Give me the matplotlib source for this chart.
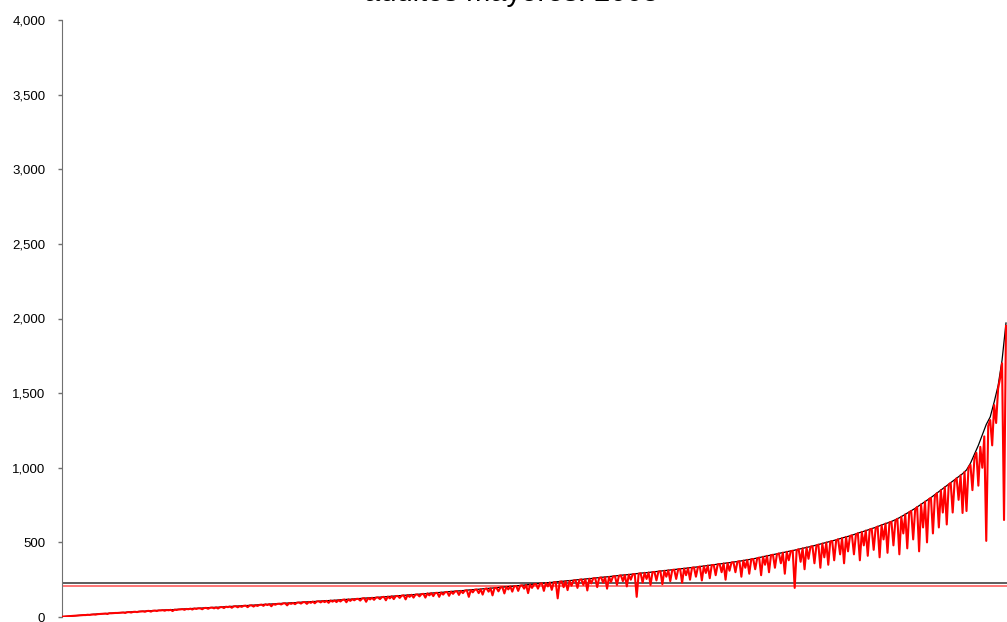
import numpy as np
import matplotlib
matplotlib.use("Agg")
import matplotlib.pyplot as plt

# Municipal values sorted from lowest to highest (black line)
sorted_values = [
    2, 4, 6, 8, 10, 12, 14, 16, 18, 20,
    22, 23, 25, 26, 28, 30, 31, 33, 35, 36,
    38, 39, 41, 42, 44, 45, 47, 48, 49, 51,
    52, 54, 55, 57, 58, 59, 61, 62, 64, 65,
    66, 68, 70, 71, 73, 74, 76, 77, 79, 80,
    82, 84, 85, 87, 88, 90, 92, 93, 95, 96,
    98, 100, 101, 103, 104, 106, 108, 109, 111, 112,
    114, 116, 118, 119, 121, 123, 125, 127, 128, 130,
    132, 134, 136, 138, 140, 142, 144, 146, 148, 150,
    152, 154, 156, 159, 161, 163, 165, 167, 170, 172,
    174, 176, 178, 181, 183, 185, 187, 190, 192, 194,
    196, 199, 201, 204, 206, 209, 211, 214, 217, 219,
    222, 225, 227, 230, 232, 235, 238, 240, 243, 245,
    248, 251, 253, 256, 258, 261, 264, 267, 269, 272,
    275, 278, 281, 283, 286, 289, 292, 295, 297, 300,
    303, 306, 309, 312, 315, 318, 321, 324, 327, 330,
    333, 336, 340, 343, 347, 350, 354, 357, 361, 364,
    368, 372, 376, 381, 385, 390, 395, 401, 407, 412,
    418, 423, 429, 434, 440, 445, 451, 457, 463, 469,
    475, 482, 489, 496, 503, 510, 517, 525, 533, 540,
    548, 557, 566, 574, 583, 592, 601, 611, 621, 630,
    640, 652, 665, 680, 696, 712, 728, 746, 764, 782,
    800, 820, 840, 860, 880, 900, 920, 940, 960, 985,
    1030, 1090, 1150, 1220, 1290, 1340, 1440, 1550, 1720, 1970,
]

# Observed values, two per sorted step (red line)
observed_values = [
    2, 3, 4, 5, 6, 7, 8, 9, 10, 11,
    12, 13, 13, 15, 14, 16, 17, 16, 19, 20,
    21, 22, 23, 20, 25, 25, 26, 27, 27, 28,
    29, 30, 27, 32, 33, 30, 34, 35, 33, 36,
    37, 38, 35, 40, 41, 36, 42, 43, 40, 44,
    44, 46, 42, 47, 45, 48, 40, 49, 47, 50,
    51, 53, 48, 54, 52, 56, 50, 57, 54, 58,
    58, 52, 60, 61, 55, 62, 63, 58, 64, 57,
    65, 67, 60, 69, 66, 70, 62, 71, 72, 65,
    73, 68, 75, 76, 66, 77, 78, 70, 79, 74,
    81, 83, 75, 85, 80, 86, 72, 87, 82, 88,
    89, 84, 91, 92, 78, 93, 88, 94, 86, 96,
    97, 90, 99, 100, 88, 101, 95, 103, 92, 104,
    105, 98, 107, 100, 108, 95, 110, 103, 111, 100,
    113, 104, 115, 117, 99, 118, 108, 120, 112, 121,
    122, 110, 124, 126, 102, 127, 118, 129, 115, 130,
    131, 120, 133, 135, 112, 137, 125, 139, 120, 140,
    141, 128, 143, 145, 118, 147, 135, 149, 130, 150,
    151, 138, 153, 155, 130, 158, 145, 160, 140, 161,
    162, 135, 164, 150, 166, 168, 142, 170, 155, 171,
    173, 148, 175, 160, 177, 179, 135, 181, 165, 183,
    184, 160, 186, 150, 188, 191, 170, 192, 145, 194,
    195, 172, 197, 200, 158, 202, 185, 205, 170, 206,
    208, 175, 210, 212, 190, 215, 160, 217, 195, 219,
    221, 190, 223, 226, 175, 228, 205, 231, 182, 232,
    234, 125, 236, 238, 200, 240, 180, 242, 210, 244,
    247, 195, 249, 252, 215, 254, 178, 257, 225, 259,
    260, 200, 262, 265, 230, 267, 190, 269, 235, 271,
    274, 215, 276, 279, 240, 282, 205, 284, 250, 286,
    288, 135, 290, 293, 230, 296, 255, 298, 215, 300,
    302, 245, 304, 307, 220, 310, 270, 313, 240, 315,
    317, 255, 319, 322, 230, 325, 280, 328, 250, 330,
    332, 270, 334, 338, 245, 341, 295, 345, 260, 347,
    349, 280, 352, 355, 300, 359, 250, 362, 310, 365,
    367, 300, 370, 374, 270, 378, 330, 383, 290, 386,
    389, 320, 392, 398, 280, 404, 350, 410, 300, 414,
    417, 330, 420, 426, 360, 431, 290, 437, 380, 441,
    444, 195, 448, 454, 370, 460, 320, 466, 390, 471,
    474, 360, 478, 485, 330, 492, 400, 499, 350, 505,
    509, 380, 513, 521, 420, 529, 360, 537, 440, 543,
    547, 420, 552, 561, 380, 570, 480, 579, 410, 586,
    591, 450, 596, 606, 400, 616, 520, 626, 430, 634,
    638, 480, 645, 658, 420, 672, 560, 688, 460, 702,
    710, 520, 720, 737, 440, 755, 600, 773, 500, 790,
    798, 560, 810, 830, 600, 850, 700, 870, 620, 888,
    898, 700, 910, 930, 785, 950, 697, 972, 710, 1000,
    1020, 850, 1060, 1100, 880, 1140, 1000, 1210, 510, 1280,
    1320, 1150, 1420, 1300, 1530, 1600, 1700, 650, 1950,
]

# Reference levels drawn across the whole chart
mean_sorted = 226
mean_observed = 210

y_ticks = [0, 500, 1000, 1500, 2000, 2500, 3000, 3500, 4000]
title = "adultos mayores. 2005"

plt.rcParams["font.family"] = ["Liberation Sans", "DejaVu Sans"]

fig = plt.figure(figsize=(10.07, 6.22), dpi=100)
ax = fig.add_axes([62 / 1007, 5 / 622, 945 / 1007, 597 / 622])

x_sorted = np.arange(len(sorted_values))
x_observed = np.arange(len(observed_values)) / 2

ax.axhline(mean_sorted, color="#505050", lw=1.3, zorder=1)
ax.axhline(mean_observed, color="#ff6a6a", lw=1.3, zorder=1)
ax.plot(x_sorted, sorted_values, color="black", lw=0.9, zorder=2)
ax.plot(x_observed, observed_values, color="red", lw=1.5, zorder=3)

ax.set_xlim(0, (len(sorted_values) - 1) * 945 / 944)
ax.set_ylim(0, 4000)
ax.set_yticks(y_ticks)
ax.set_yticklabels([f"{v:,}" for v in y_ticks], fontsize=9.5)
ax.set_xticks([])

for side in ["top", "right", "bottom"]:
    ax.spines[side].set_visible(False)
ax.spines["left"].set_color("#707070")
ax.tick_params(axis="y", direction="out", length=3, width=1, color="#707070", pad=9)

fig.text(0.508, 0.998, title, ha="center", va="baseline", fontsize=21)

plt.savefig("out.png", dpi=100)
plt.close()
